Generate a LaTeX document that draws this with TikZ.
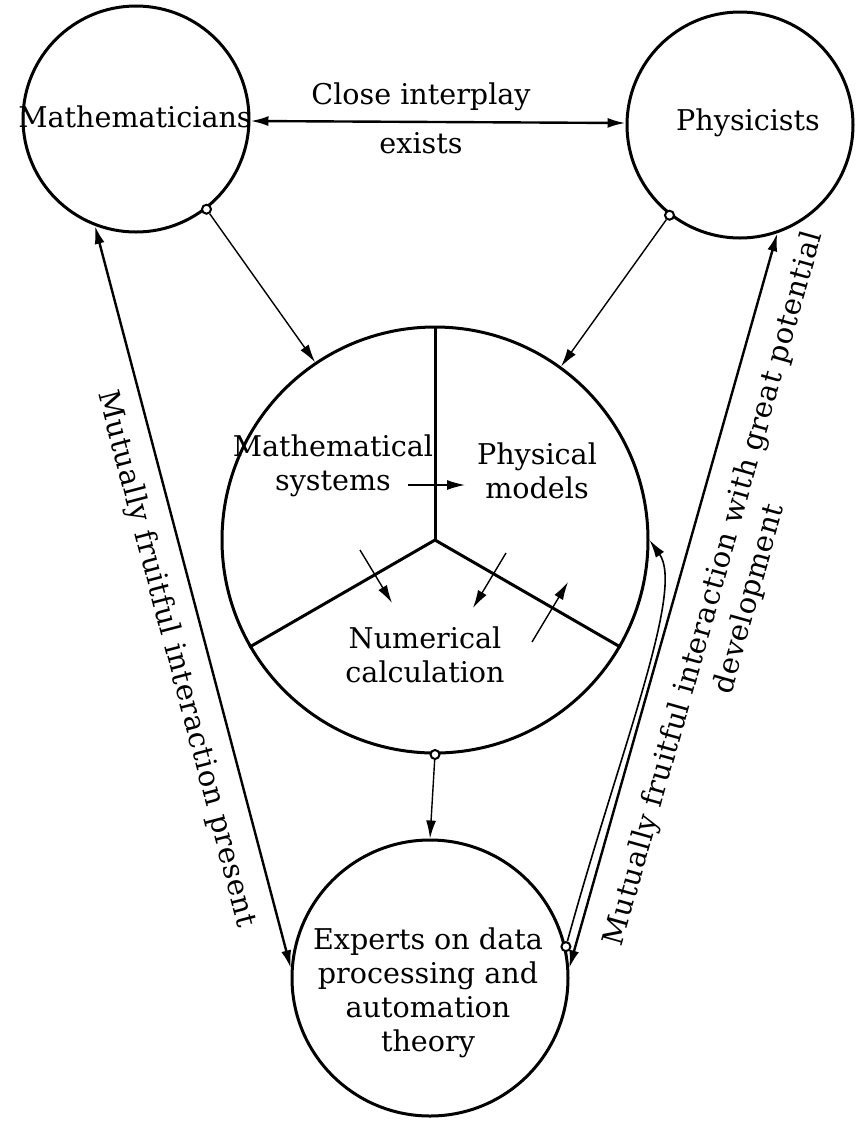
\documentclass[tikz,border=0pt]{standalone}
\usepackage{fontspec}
\setmainfont{DejaVu Serif}
\usetikzlibrary{arrows.meta}

\tikzstyle{group}=[circle,draw,line width=1.5pt,inner sep=0pt]
\tikzstyle{port}=[circle,draw,line width=1pt,fill=white,inner sep=0pt,minimum size=4.5pt]
\tikzstyle{every node}=[font=\fontsize{14.3}{17}\selectfont]
\tikzstyle{slant}=[font=\fontsize{14.5}{18.5}\selectfont\addfontfeature{LetterSpace=2}]

\begin{document}
\begin{tikzpicture}[x=0.5pt,y=-0.5pt,>={Latex[length=9pt,width=5pt]}]
	\useasboundingbox (0,0) rectangle (859,1131);

	\node (M) at (136,119) [group,minimum size=113pt] {};
	\node (P) at (740,125) [group,minimum size=113pt] {};
	\node (C) at (435,540) [group,minimum size=213pt] {};
	\node (E) at (430,978) [group,minimum size=138pt] {};

	\draw [line width=1.5pt] (C.center) -- (C.north);
	\draw [line width=1.5pt] (C.center) -- (C.210);
	\draw [line width=1.5pt] (C.center) -- (C.330);

		\node (mt) at (135,117) {Mathematicians};
		\node (pt) at (748,123) {Physicists};
		\node (ms) at (333,466) [align=center] {Mathematical\\systems};
		\node (pm) at (537,471) [align=center] {Physical\\models};
		\node (nc) at (425,655) [align=center] {Numerical\\calculation};
		\node (ex) at (428,993) [align=center] {Experts on data\\processing and\\automation\\theory};

		\node (ci) at (421,97) {Close interplay};
		\node (cx) at (421,143) {exists};

		\node (lt) at (176,659) [slant,rotate=-75.3] {Mutually fruitful interaction present};
		\node (rt) at (732,594) [slant,rotate=74.3,align=center] {Mutually fruitful interaction with great potential\\development};

	\node (m1) at (M.-52) [port] {};
	\node (p1) at (P.-128) [port] {};
	\node (c1) at (C.south) [port] {};
	\node (e1) at (E.13) [port] {};

	\coordinate (s1) at (408,485);
	\coordinate (s2) at (465,485);
	\coordinate (a1) at (360,550);
	\coordinate (a2) at (392,603);
	\coordinate (b1) at (506,553);
	\coordinate (b2) at (473,608);
	\coordinate (d1) at (532,642);
	\coordinate (d2) at (568,582);

	\draw [<->,line width=1.2pt] (M.-1) to (P.179);
	\draw [->,line width=0.7pt] (m1) to (C.124);
	\draw [->,line width=0.7pt] (p1) to (C.54);
	\draw [->,line width=0.7pt] (c1) to (E.north);

	\draw [<->,line width=1.2pt] (M.-111) to (E.176);
	\draw [<->,line width=1.2pt] (P.-71) to (E.4);
	\draw [->,line width=0.8pt] (e1) .. controls (620,750) and (685,590) .. (C.east);

	\draw [->,line width=0.7pt] (s1) to (s2);
	\draw [->,line width=0.7pt] (a1) to (a2);
	\draw [->,line width=0.7pt] (b1) to (b2);
	\draw [->,line width=0.7pt] (d1) to (d2);

\end{tikzpicture}
\end{document}
